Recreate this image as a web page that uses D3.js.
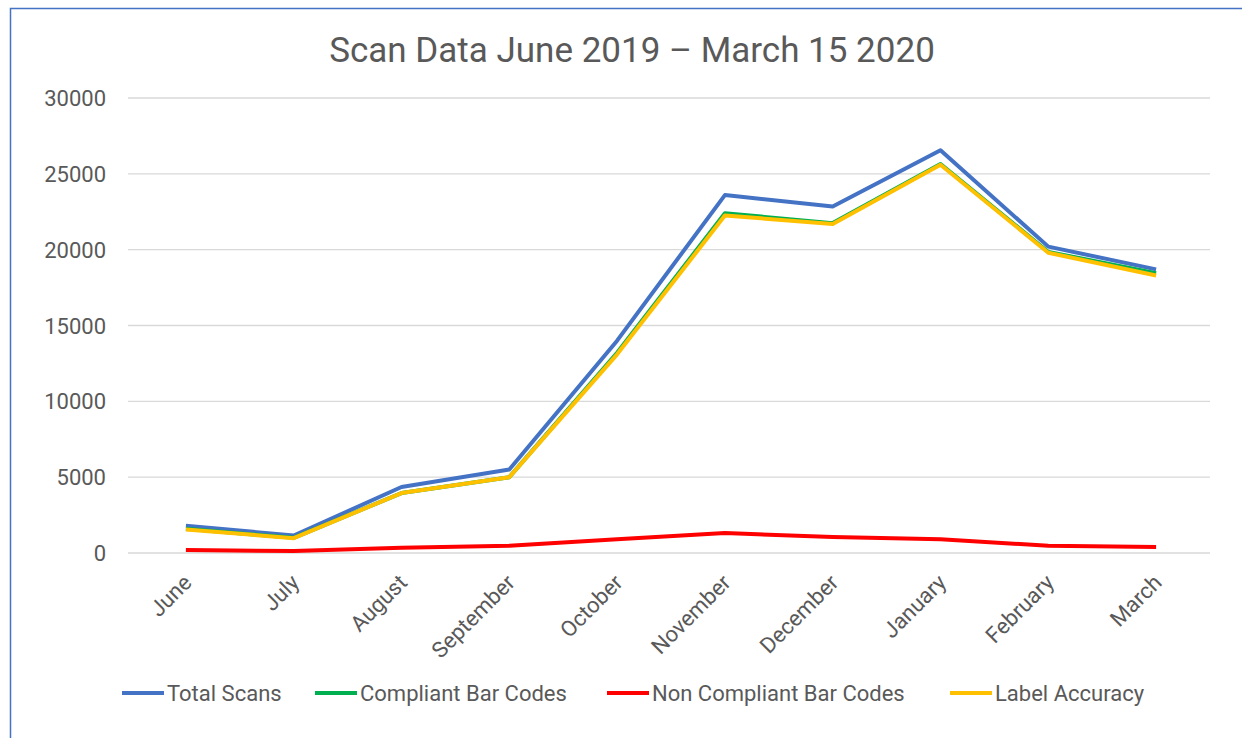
<!DOCTYPE html>
<html>
<head>
<meta charset="utf-8">
<script src="https://cdn.jsdelivr.net/npm/d3@7"></script>
<style>
  body { margin: 0; background: #fff; }
  text { font-family: "Roboto", "Open Sans", sans-serif; fill: #595959; }
</style>
</head>
<body>
<div id="chart"></div>
<script>
var width = 1242;
var height = 738;

var months = ["June", "July", "August", "September", "October", "November", "December", "January", "February", "March"];
var totalScans = [1800, 1150, 4350, 5500, 14000, 23600, 22850, 26550, 20200, 18700];
var compliant = [1600, 1000, 3950, 5000, 13200, 22400, 21750, 25650, 19850, 18450];
var nonCompliant = [200, 130, 350, 480, 900, 1320, 1050, 900, 480, 400];
var labelAccuracy = [1550, 980, 3950, 5000, 13100, 22250, 21700, 25600, 19800, 18300];
var yTicks = [0, 5000, 10000, 15000, 20000, 25000, 30000];

var seriesNames = ["Total Scans", "Compliant Bar Codes", "Non Compliant Bar Codes", "Label Accuracy"];
var seriesColors = ["#4472C4", "#00B050", "#FF0000", "#FFC000"];
var seriesValues = [totalScans, compliant, nonCompliant, labelAccuracy];

var svg = d3.select("#chart").append("svg")
    .attr("width", width)
    .attr("height", height);

// frame border (blue, only left and top are inside the picture)
svg.append("rect")
    .attr("x", 10.5).attr("y", 8.5)
    .attr("width", width + 20).attr("height", height + 20)
    .attr("fill", "none")
    .attr("stroke", "#4472C4")
    .attr("stroke-width", 1.5);

svg.append("text")
    .attr("x", 632).attr("y", 62)
    .attr("text-anchor", "middle")
    .style("font-size", "35px")
    .text("Scan Data June 2019 \u2013 March 15 2020");

var x = d3.scaleBand()
    .domain(months)
    .range([132, 1210]);

var y = d3.scaleLinear()
    .domain([0, 30000])
    .range([553, 98]);

// gridlines
svg.append("g")
    .selectAll("line")
    .data(yTicks)
    .enter()
    .append("line")
    .attr("x1", 128).attr("x2", 1210)
    .attr("y1", d => y(d)).attr("y2", d => y(d))
    .attr("stroke", "#d9d9d9")
    .attr("stroke-width", 1.3);

// y tick labels
svg.append("g")
    .selectAll("text")
    .data(yTicks)
    .enter()
    .append("text")
    .attr("x", 106)
    .attr("y", d => y(d) + 8)
    .attr("text-anchor", "end")
    .style("font-size", "22px")
    .text(d => d);

// x labels rotated
svg.append("g")
    .selectAll("text")
    .data(months)
    .enter()
    .append("text")
    .attr("transform", d => "translate(" + (x(d) + x.bandwidth() / 2 + 7) + ",584) rotate(-45)")
    .attr("text-anchor", "end")
    .style("font-size", "22px")
    .text(d => d);

var line = d3.line()
    .x((d, i) => x(months[i]) + x.bandwidth() / 2)
    .y(d => y(d));

svg.append("g")
    .selectAll("path")
    .data(seriesValues)
    .enter()
    .append("path")
    .attr("d", d => line(d))
    .attr("fill", "none")
    .attr("stroke", (d, i) => seriesColors[i])
    .attr("stroke-width", 4)
    .attr("stroke-linejoin", "round");

// legend
var legendX = [122, 315, 607, 950];
var legend = svg.append("g")
    .selectAll("g")
    .data(seriesNames)
    .enter()
    .append("g")
    .attr("transform", (d, i) => "translate(" + legendX[i] + ",693)");

legend.append("line")
    .attr("x1", 0).attr("x2", 42)
    .attr("stroke", (d, i) => seriesColors[i])
    .attr("stroke-width", 4);

legend.append("text")
    .attr("x", 45).attr("y", 8)
    .style("font-size", "22px")
    .text(d => d);
</script>
</body>
</html>
